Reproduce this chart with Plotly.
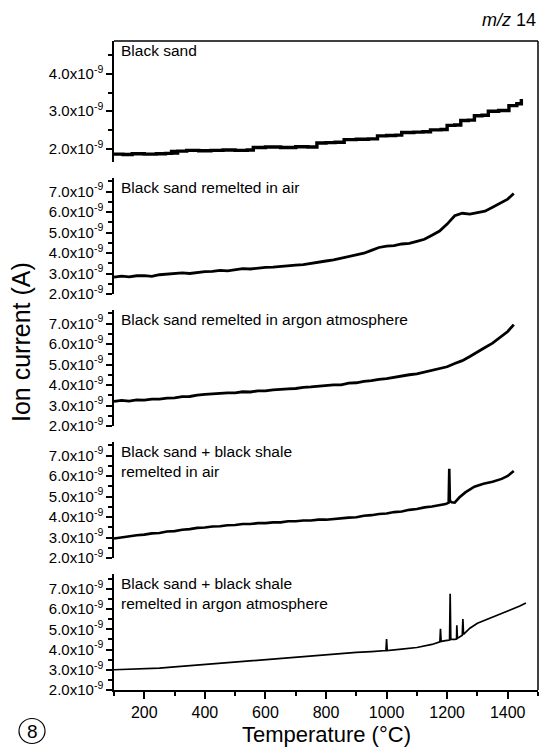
import plotly.graph_objects as go

# ---------------- data (ion current in units of 1e-9 A) ----------------
labels = [
    "Black sand",
    "Black sand remelted in air",
    "Black sand remelted in argon atmosphere",
    "Black sand + black shale<br>remelted in air",
    "Black sand + black shale<br>remelted in argon atmosphere",
]

t1 = [100, 130, 160, 200, 240, 270, 290, 300, 310, 340, 380, 420, 460, 500, 540, 560, 600, 650,
      700, 740, 770, 800, 830, 860, 900, 940, 970, 1000, 1030, 1050, 1090, 1120, 1145, 1180,
      1200, 1225, 1245, 1270, 1290, 1315, 1336, 1370, 1404, 1430, 1445]
i1 = [1.85, 1.84, 1.86, 1.85, 1.86, 1.87, 1.92, 1.88, 1.93, 1.95, 1.94, 1.95, 1.96, 1.95, 1.96,
      2.03, 2.04, 2.03, 2.05, 2.04, 2.15, 2.16, 2.17, 2.24, 2.25, 2.26, 2.34, 2.35, 2.36, 2.43,
      2.44, 2.45, 2.50, 2.51, 2.62, 2.63, 2.75, 2.76, 2.88, 2.89, 3.00, 3.02, 3.15, 3.20, 3.33]

t2 = [100, 125, 150, 175, 200, 225, 250, 275, 300, 325, 350, 375, 400, 425, 450, 475, 500, 525,
      550, 575, 600, 625, 650, 675, 700, 725, 750, 775, 800, 825, 850, 875, 900, 925, 950, 975,
      1000, 1025, 1050, 1075, 1100, 1125, 1150, 1175, 1200, 1225, 1250, 1275, 1300, 1325, 1350,
      1375, 1400, 1420]
i2 = [2.82, 2.87, 2.84, 2.89, 2.90, 2.86, 2.94, 2.96, 2.98, 3.03, 3.00, 3.06, 3.09, 3.10, 3.15,
      3.13, 3.19, 3.24, 3.22, 3.27, 3.30, 3.31, 3.35, 3.37, 3.41, 3.43, 3.50, 3.54, 3.61, 3.66,
      3.75, 3.81, 3.93, 3.99, 4.13, 4.27, 4.34, 4.36, 4.44, 4.47, 4.57, 4.67, 4.87, 5.07, 5.41,
      5.82, 5.94, 5.90, 5.97, 6.04, 6.23, 6.41, 6.63, 6.90]

t3 = [100, 125, 150, 175, 200, 225, 250, 275, 300, 325, 350, 375, 400, 425, 450, 475, 500, 525,
      550, 575, 600, 625, 650, 675, 700, 725, 750, 775, 800, 825, 850, 875, 900, 925, 950, 975,
      1000, 1025, 1050, 1075, 1100, 1125, 1150, 1175, 1200, 1225, 1250, 1275, 1300, 1325, 1350,
      1375, 1400, 1420]
i3 = [3.20, 3.25, 3.21, 3.27, 3.26, 3.31, 3.31, 3.36, 3.37, 3.43, 3.44, 3.51, 3.54, 3.58, 3.59,
      3.62, 3.62, 3.67, 3.66, 3.71, 3.71, 3.76, 3.77, 3.81, 3.83, 3.89, 3.91, 3.95, 3.96, 4.01,
      4.01, 4.09, 4.11, 4.18, 4.21, 4.28, 4.31, 4.38, 4.42, 4.50, 4.54, 4.63, 4.69, 4.81, 4.89,
      5.05, 5.19, 5.39, 5.59, 5.83, 6.04, 6.33, 6.61, 6.95]

t4 = [100, 125, 150, 175, 200, 225, 250, 275, 300, 325, 350, 375, 400, 425, 450, 475, 500, 525,
      550, 575, 600, 625, 650, 675, 700, 725, 750, 775, 800, 825, 850, 875, 900, 925, 950, 975,
      1000, 1025, 1050, 1075, 1100, 1125, 1150, 1175, 1195, 1205, 1207, 1209, 1215, 1225, 1240,
      1260, 1290, 1320, 1350, 1380, 1400, 1420]
i4 = [2.95, 3.01, 3.04, 3.11, 3.14, 3.20, 3.22, 3.29, 3.31, 3.38, 3.41, 3.47, 3.49, 3.54, 3.55,
      3.60, 3.61, 3.66, 3.66, 3.70, 3.70, 3.74, 3.74, 3.79, 3.79, 3.83, 3.83, 3.87, 3.87, 3.91,
      3.92, 3.97, 3.99, 4.06, 4.09, 4.15, 4.17, 4.24, 4.27, 4.35, 4.39, 4.47, 4.51, 4.59, 4.63,
      4.70, 6.35, 4.80, 4.72, 4.70, 4.95, 5.20, 5.48, 5.62, 5.72, 5.86, 6.00, 6.25]

t5 = [100, 150, 200, 250, 300, 350, 400, 450, 500, 550, 600, 650, 700, 750, 800, 850, 900, 950,
      998, 1000, 1002, 1050, 1100, 1150, 1176, 1178, 1180, 1200, 1208, 1210, 1212, 1225, 1231,
      1232, 1234, 1250, 1252, 1254, 1275, 1300, 1350, 1400, 1440, 1460]
i5 = [3.00, 3.02, 3.04, 3.08, 3.14, 3.20, 3.27, 3.33, 3.40, 3.46, 3.52, 3.58, 3.64, 3.69, 3.74,
      3.80, 3.86, 3.90, 3.95, 4.52, 3.95, 4.02, 4.10, 4.25, 4.38, 5.02, 4.40, 4.45, 4.47, 6.75,
      4.50, 4.50, 4.52, 5.20, 4.55, 4.70, 5.50, 4.75, 5.05, 5.30, 5.62, 5.90, 6.15, 6.30]

series_t = [t1, t2, t3, t4, t5]
series_i = [i1, i2, i3, i4, i5]

y_ranges = [[1.64, 4.88], [2.0, 7.66], [2.0, 7.66], [2.0, 7.66], [2.0, 7.73]]
y_major = [[2, 3, 4], [2, 3, 4, 5, 6, 7], [2, 3, 4, 5, 6, 7], [2, 3, 4, 5, 6, 7], [2, 3, 4, 5, 6, 7]]
y_minor = [[2.5, 3.5, 4.5], [2.5, 3.5, 4.5, 5.5, 6.5, 7.5], [2.5, 3.5, 4.5, 5.5, 6.5, 7.5],
           [2.5, 3.5, 4.5, 5.5, 6.5, 7.5], [2.5, 3.5, 4.5, 5.5, 6.5, 7.5]]
line_widths = [3.4, 2.8, 2.8, 2.6, 1.7]

x_range = [100, 1500]

# ---------------- layout geometry (pixels) ----------------
W, H = 539, 747
L, R, T, B = 114, 1, 41, 57
PH = H - T - B
panel_top_px = [41, 178, 310, 442, 574]
panel_bot_px = [162, 294, 426, 558, 690]


def fy(py):
    return (H - B - py) / PH


def fx(px):
    return (px - L) / (W - L - R)


FONT = "Liberation Sans, Arial, Helvetica, sans-serif"

fig = go.Figure()
for k in range(5):
    yname = "y" if k == 0 else f"y{k + 1}"
    fig.add_trace(go.Scatter(x=series_t[k], y=series_i[k], mode="lines",
                             line=dict(color="black", width=line_widths[k],
                                       shape="hv" if k == 0 else "linear"),
                             xaxis="x", yaxis=yname, showlegend=False,
                             hoverinfo="skip"))

layout = dict(
    width=W, height=H,
    margin=dict(l=L, r=R, t=T, b=B),
    paper_bgcolor="white", plot_bgcolor="white",
    font=dict(family=FONT, color="black"),
    showlegend=False,
    xaxis=dict(range=x_range, anchor="y5", showline=True, linecolor="black", linewidth=1.5,
               ticks="outside", ticklen=7, tickwidth=1.5, tickcolor="black",
               tick0=0, dtick=200, tickfont=dict(size=16, family=FONT),
               minor=dict(dtick=100, tick0=0, ticks="outside", ticklen=4, tickwidth=1.5,
                          tickcolor="black"),
               showgrid=False, zeroline=False, fixedrange=True),
)
for k in range(5):
    key = "yaxis" if k == 0 else f"yaxis{k + 1}"
    layout[key] = dict(
        domain=[fy(panel_bot_px[k]), fy(panel_top_px[k])],
        range=y_ranges[k], anchor="x",
        showline=True, linecolor="black", linewidth=1.5,
        ticks="outside", ticklen=6, tickwidth=1.5, tickcolor="black",
        tickmode="array", tickvals=y_major[k],
        ticktext=[f"{v:.1f}x10<sup>-9</sup>" for v in y_major[k]],
        tickfont=dict(size=15, family=FONT),
        minor=dict(tickmode="array", tickvals=y_minor[k], ticks="outside", ticklen=4,
                   tickwidth=1.5, tickcolor="black"),
        showgrid=False, zeroline=False, fixedrange=True,
    )
fig.update_layout(**layout)

# frame: top and right border
fig.add_shape(type="line", xref="paper", yref="paper", x0=0, x1=1, y0=1, y1=1,
              line=dict(color="black", width=1.5))
fig.add_shape(type="line", xref="paper", yref="paper", x0=1, x1=1, y0=0, y1=1,
              line=dict(color="black", width=1.5))

# panel labels
for k in range(5):
    fig.add_annotation(text=labels[k], xref="paper", yref="paper",
                       x=fx(119), y=fy(panel_top_px[k] - 1), xanchor="left", yanchor="top",
                       showarrow=False, align="left",
                       font=dict(size=15.5, family=FONT, color="black"))

# m/z label
fig.add_annotation(text="<i>m/z</i> 14", xref="paper", yref="paper",
                   x=fx(538), y=fy(20), xanchor="right", yanchor="middle",
                   showarrow=False, font=dict(size=18, family=FONT, color="black"))

# axis titles
fig.add_annotation(text="Ion current (A)", xref="paper", yref="paper",
                   x=fx(21), y=fy(342), xanchor="center", yanchor="middle", textangle=-90,
                   showarrow=False, font=dict(size=25, family=FONT, color="black"))
fig.add_annotation(text="Temperature (°C)", xref="paper", yref="paper",
                   x=fx(326), y=fy(734), xanchor="center", yanchor="middle",
                   showarrow=False, font=dict(size=22, family=FONT, color="black"))

# circled 8
fig.add_shape(type="circle", xref="paper", yref="paper",
              x0=fx(19), x1=fx(45), y0=fy(743.5), y1=fy(718.5),
              line=dict(color="black", width=1.2))
fig.add_annotation(text="8", xref="paper", yref="paper", x=fx(32), y=fy(731),
                   xanchor="center", yanchor="middle", showarrow=False,
                   font=dict(size=19, family=FONT, color="black"))

fig.write_html("out.html", config={"displayModeBar": False})
